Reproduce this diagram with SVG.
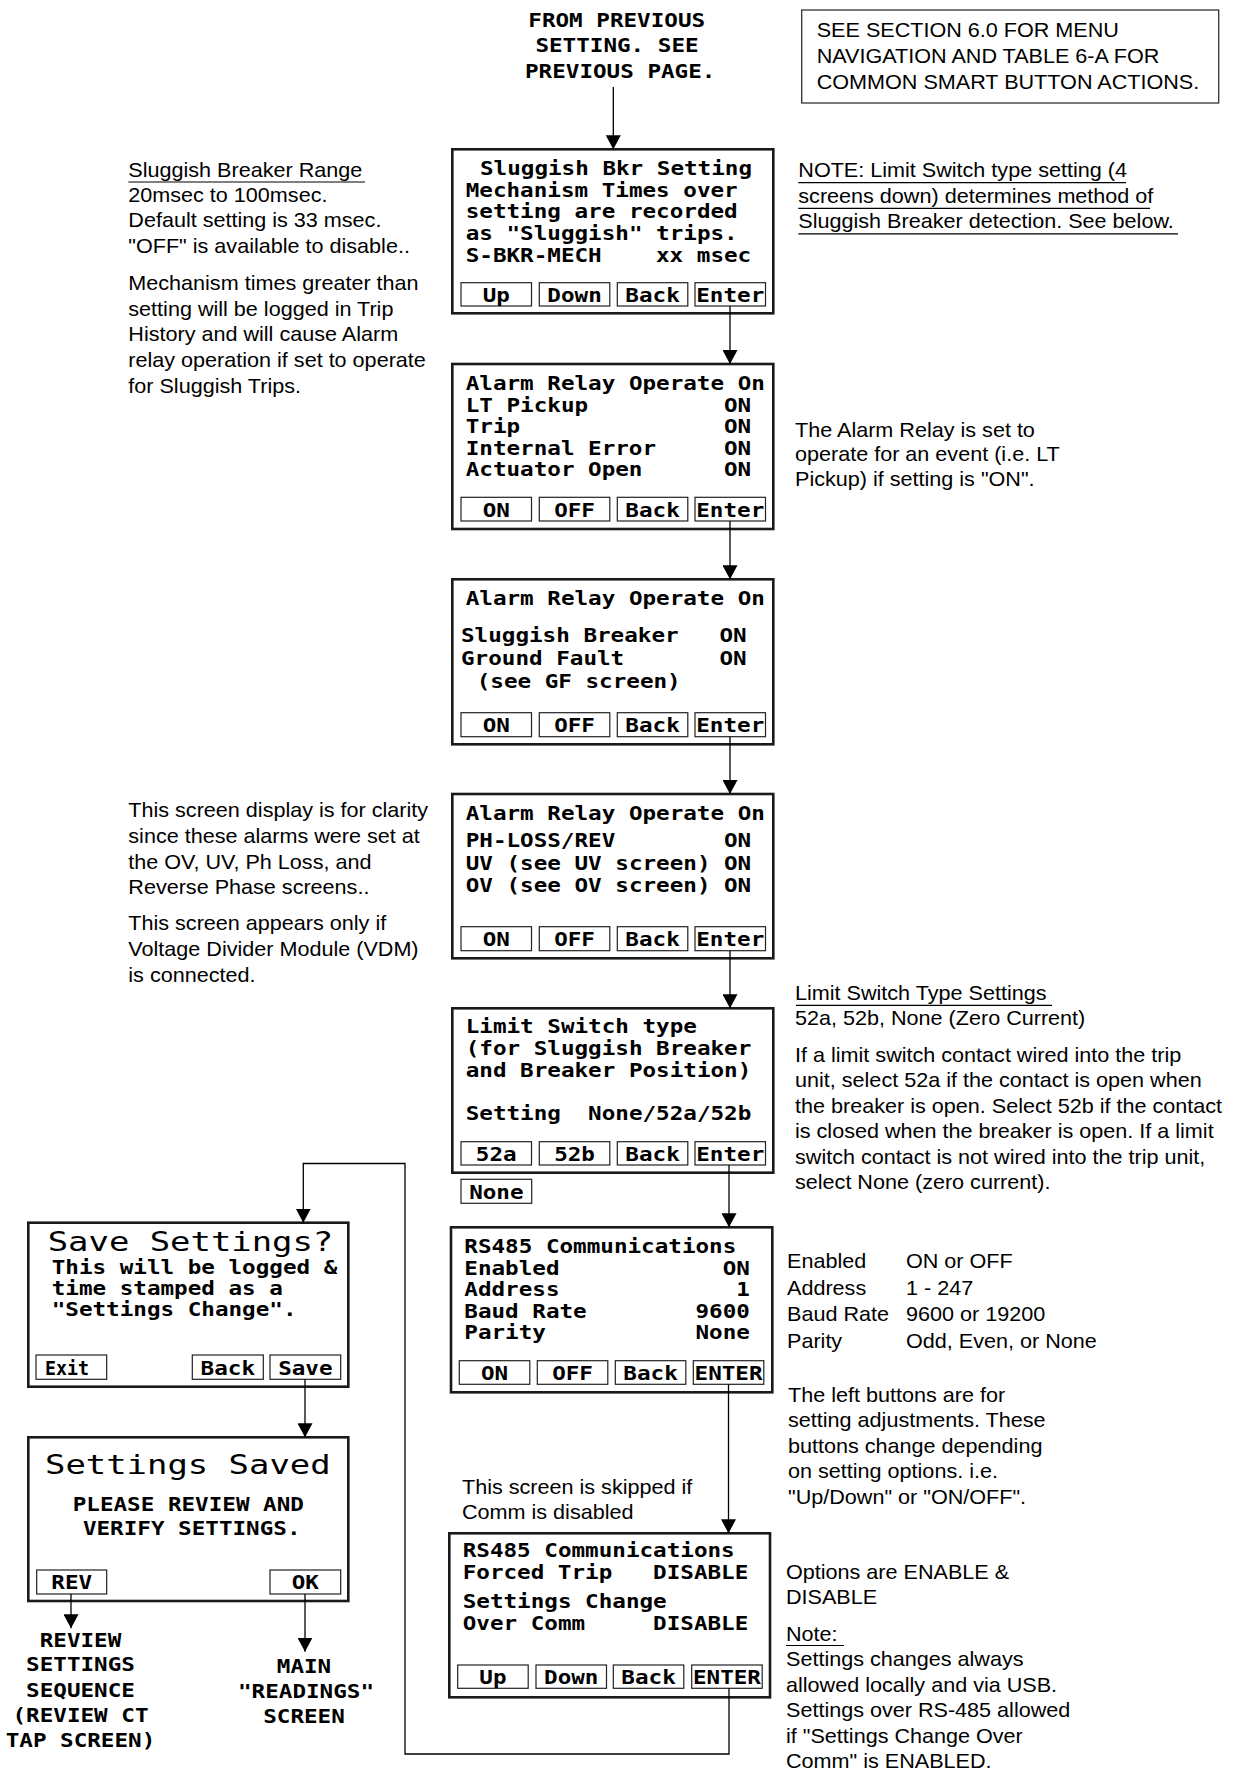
<svg xmlns="http://www.w3.org/2000/svg" width="1238" height="1771" viewBox="0 0 1238 1771">
<defs>
<style>
.scr{fill:#fff;stroke:#1a1a1a;stroke-width:2.6}
.btn{fill:#fff;stroke:#222;stroke-width:1.2}
.note{fill:#fff;stroke:#333;stroke-width:1.3}
.lcd{font-family:"DejaVu Sans Mono",monospace;font-weight:bold;font-size:19px;fill:#000}
.big{font-family:"DejaVu Sans Mono",monospace;font-weight:normal;font-size:26px;fill:#000}
.ar{font-family:"Liberation Sans",Arial,sans-serif;font-size:20px;fill:#000}
.ul{stroke:#000;stroke-width:1.2}
.con{fill:none;stroke:#000;stroke-width:1.3}
</style>
<marker id="ah" viewBox="0 0 14 15" refX="14" refY="7.5" markerWidth="14" markerHeight="15" markerUnits="userSpaceOnUse" orient="auto">
<path d="M0,0 L14,7.5 L0,15 z" fill="#000"/>
</marker>
</defs>
<rect width="1238" height="1771" fill="#fff"/>

<g id="from-previous">
<text class="lcd" x="528.3" y="26.7" textLength="176.8" lengthAdjust="spacingAndGlyphs">FROM PREVIOUS</text>
<text class="lcd" x="535.4" y="52.3" textLength="163.2" lengthAdjust="spacingAndGlyphs">SETTING. SEE</text>
<text class="lcd" x="525" y="78.3" textLength="190.4" lengthAdjust="spacingAndGlyphs">PREVIOUS PAGE.</text>
</g>

<g id="see-section">
<rect class="note" x="801.7" y="10" width="417" height="93"/>
<text class="ar" transform="translate(816.7,37) scale(1.08,1)"><tspan x="0">SEE SECTION 6.0 FOR MENU</tspan><tspan x="0" dy="26">NAVIGATION AND TABLE 6-A FOR</tspan><tspan x="0" dy="26">COMMON SMART BUTTON ACTIONS.</tspan></text>
</g>

<g id="note-limit">
<text class="ar" transform="translate(798.3,177) scale(1.08,1)"><tspan x="0">NOTE: Limit Switch type setting (4</tspan><tspan x="0" dy="25.75">screens down) determines method of</tspan><tspan x="0" dy="25.75">Sluggish Breaker detection.  See below.</tspan></text>
<line class="ul" x1="798.3" y1="182.7" x2="1126" y2="182.7"/>
<line class="ul" x1="798.3" y1="208.3" x2="1150" y2="208.3"/>
<line class="ul" x1="798.3" y1="233.8" x2="1178" y2="233.8"/>
</g>

<g id="note-sluggish">
<text class="ar" transform="translate(128.3,176.7) scale(1.08,1)"><tspan x="0">Sluggish Breaker Range</tspan><tspan x="0" dy="25.3">20msec to 100msec.</tspan><tspan x="0" dy="25.3">Default setting is 33 msec.</tspan><tspan x="0" dy="25.3">"OFF" is available to disable..</tspan><tspan x="0" dy="37.4">Mechanism times greater than</tspan><tspan x="0" dy="25.7">setting will be logged in Trip</tspan><tspan x="0" dy="25.7">History and will cause Alarm</tspan><tspan x="0" dy="25.7">relay operation if set to operate</tspan><tspan x="0" dy="25.7">for Sluggish Trips.</tspan></text>
<line class="ul" x1="128.3" y1="182" x2="365" y2="182"/>
</g>

<g id="screen-sluggish">
<rect class="scr" x="452.3" y="149.3" width="321" height="164"/>
<text class="lcd" x="480" y="175" textLength="272" lengthAdjust="spacingAndGlyphs">Sluggish Bkr Setting</text>
<text class="lcd" x="465.7" y="196.5" textLength="272" lengthAdjust="spacingAndGlyphs">Mechanism Times over</text>
<text class="lcd" x="465.7" y="218" textLength="272" lengthAdjust="spacingAndGlyphs">setting are recorded</text>
<text class="lcd" x="465.7" y="240" textLength="272" lengthAdjust="spacingAndGlyphs">as "Sluggish" trips.</text>
<text class="lcd" x="465.7" y="261.5" textLength="136" lengthAdjust="spacingAndGlyphs">S-BKR-MECH</text>
<text class="lcd" x="656" y="261.5" textLength="95.2" lengthAdjust="spacingAndGlyphs">xx msec</text>
<rect class="btn" x="461" y="282.7" width="70.5" height="23.3"/>
<rect class="btn" x="539.3" y="282.7" width="70.5" height="23.3"/>
<rect class="btn" x="617.3" y="282.7" width="70.5" height="23.3"/>
<rect class="btn" x="695" y="282.7" width="70.5" height="23.3"/>
<text class="lcd" x="482.65" y="301.5" textLength="27.2" lengthAdjust="spacingAndGlyphs">Up</text>
<text class="lcd" x="547.35" y="301.5" textLength="54.4" lengthAdjust="spacingAndGlyphs">Down</text>
<text class="lcd" x="625.35" y="301.5" textLength="54.4" lengthAdjust="spacingAndGlyphs">Back</text>
<text class="lcd" x="696.25" y="301.5" textLength="68" lengthAdjust="spacingAndGlyphs">Enter</text>
</g>

<g id="note-alarm">
<text class="ar" transform="translate(795,436.5) scale(1.08,1)"><tspan x="0">The Alarm Relay is set to</tspan><tspan x="0" dy="25">operate for an event (i.e. LT</tspan><tspan x="0" dy="25">Pickup) if setting is "ON".</tspan></text>
</g>

<g id="screen-alarm1">
<rect class="scr" x="452.3" y="364" width="321" height="165"/>
<text class="lcd" x="465.7" y="390" textLength="299.2" lengthAdjust="spacingAndGlyphs">Alarm Relay Operate On</text>
<text class="lcd" x="465.7" y="411.5" textLength="122.4" lengthAdjust="spacingAndGlyphs">LT Pickup</text>
<text class="lcd" x="724" y="411.5" textLength="27.2" lengthAdjust="spacingAndGlyphs">ON</text>
<text class="lcd" x="465.7" y="433" textLength="54.4" lengthAdjust="spacingAndGlyphs">Trip</text>
<text class="lcd" x="724" y="433" textLength="27.2" lengthAdjust="spacingAndGlyphs">ON</text>
<text class="lcd" x="465.7" y="454.5" textLength="190.4" lengthAdjust="spacingAndGlyphs">Internal Error</text>
<text class="lcd" x="724" y="454.5" textLength="27.2" lengthAdjust="spacingAndGlyphs">ON</text>
<text class="lcd" x="465.7" y="476" textLength="176.8" lengthAdjust="spacingAndGlyphs">Actuator Open</text>
<text class="lcd" x="724" y="476" textLength="27.2" lengthAdjust="spacingAndGlyphs">ON</text>
<rect class="btn" x="461" y="497.3" width="70.5" height="23.7"/>
<rect class="btn" x="539.3" y="497.3" width="70.5" height="23.7"/>
<rect class="btn" x="617.3" y="497.3" width="70.5" height="23.7"/>
<rect class="btn" x="695" y="497.3" width="70.5" height="23.7"/>
<text class="lcd" x="482.65" y="516.5" textLength="27.2" lengthAdjust="spacingAndGlyphs">ON</text>
<text class="lcd" x="554.15" y="516.5" textLength="40.8" lengthAdjust="spacingAndGlyphs">OFF</text>
<text class="lcd" x="625.35" y="516.5" textLength="54.4" lengthAdjust="spacingAndGlyphs">Back</text>
<text class="lcd" x="696.25" y="516.5" textLength="68" lengthAdjust="spacingAndGlyphs">Enter</text>
</g>

<g id="screen-alarm2">
<rect class="scr" x="452.3" y="579.3" width="321" height="165"/>
<text class="lcd" x="465.7" y="605" textLength="299.2" lengthAdjust="spacingAndGlyphs">Alarm Relay Operate On</text>
<text class="lcd" x="461" y="641.5" textLength="217.6" lengthAdjust="spacingAndGlyphs">Sluggish Breaker</text>
<text class="lcd" x="719.4" y="641.5" textLength="27.2" lengthAdjust="spacingAndGlyphs">ON</text>
<text class="lcd" x="461" y="664.5" textLength="163.2" lengthAdjust="spacingAndGlyphs">Ground Fault</text>
<text class="lcd" x="719.4" y="664.5" textLength="27.2" lengthAdjust="spacingAndGlyphs">ON</text>
<text class="lcd" x="476.7" y="687.5" textLength="204" lengthAdjust="spacingAndGlyphs">(see GF screen)</text>
<rect class="btn" x="461" y="712.7" width="70.5" height="24"/>
<rect class="btn" x="539.3" y="712.7" width="70.5" height="24"/>
<rect class="btn" x="617.3" y="712.7" width="70.5" height="24"/>
<rect class="btn" x="695" y="712.7" width="70.5" height="24"/>
<text class="lcd" x="482.65" y="732" textLength="27.2" lengthAdjust="spacingAndGlyphs">ON</text>
<text class="lcd" x="554.15" y="732" textLength="40.8" lengthAdjust="spacingAndGlyphs">OFF</text>
<text class="lcd" x="625.35" y="732" textLength="54.4" lengthAdjust="spacingAndGlyphs">Back</text>
<text class="lcd" x="696.25" y="732" textLength="68" lengthAdjust="spacingAndGlyphs">Enter</text>
</g>

<g id="note-clarity">
<text class="ar" transform="translate(128.3,817) scale(1.08,1)"><tspan x="0">This screen display is for clarity</tspan><tspan x="0" dy="25.8">since these alarms were set at</tspan><tspan x="0" dy="25.8">the OV, UV, Ph Loss, and</tspan><tspan x="0" dy="25.8">Reverse Phase screens..</tspan><tspan x="0" dy="36.1">This screen appears only if</tspan><tspan x="0" dy="25.8">Voltage Divider Module (VDM)</tspan><tspan x="0" dy="25.8">is connected.</tspan></text>
</g>

<g id="screen-alarm3">
<rect class="scr" x="452.3" y="794" width="321" height="164.3"/>
<text class="lcd" x="465.7" y="820" textLength="299.2" lengthAdjust="spacingAndGlyphs">Alarm Relay Operate On</text>
<text class="lcd" x="465.7" y="846.5" textLength="149.6" lengthAdjust="spacingAndGlyphs">PH-LOSS/REV</text>
<text class="lcd" x="724" y="846.5" textLength="27.2" lengthAdjust="spacingAndGlyphs">ON</text>
<text class="lcd" x="465.7" y="869.5" textLength="244.8" lengthAdjust="spacingAndGlyphs">UV (see UV screen)</text>
<text class="lcd" x="724" y="869.5" textLength="27.2" lengthAdjust="spacingAndGlyphs">ON</text>
<text class="lcd" x="465.7" y="892" textLength="244.8" lengthAdjust="spacingAndGlyphs">OV (see OV screen)</text>
<text class="lcd" x="724" y="892" textLength="27.2" lengthAdjust="spacingAndGlyphs">ON</text>
<rect class="btn" x="461" y="926.7" width="70.5" height="24"/>
<rect class="btn" x="539.3" y="926.7" width="70.5" height="24"/>
<rect class="btn" x="617.3" y="926.7" width="70.5" height="24"/>
<rect class="btn" x="695" y="926.7" width="70.5" height="24"/>
<text class="lcd" x="482.65" y="946" textLength="27.2" lengthAdjust="spacingAndGlyphs">ON</text>
<text class="lcd" x="554.15" y="946" textLength="40.8" lengthAdjust="spacingAndGlyphs">OFF</text>
<text class="lcd" x="625.35" y="946" textLength="54.4" lengthAdjust="spacingAndGlyphs">Back</text>
<text class="lcd" x="696.25" y="946" textLength="68" lengthAdjust="spacingAndGlyphs">Enter</text>
</g>

<g id="note-limit-switch">
<text class="ar" transform="translate(795,1000) scale(1.08,1)"><tspan x="0">Limit Switch Type Settings</tspan><tspan x="0" dy="25">52a, 52b, None (Zero Current)</tspan><tspan x="0" dy="36.7">If a limit switch contact wired into the trip</tspan><tspan x="0" dy="25.5">unit, select 52a if the contact is open when</tspan><tspan x="0" dy="25.5">the breaker is open. Select 52b if the contact</tspan><tspan x="0" dy="25.5">is closed when the breaker is open. If a limit</tspan><tspan x="0" dy="25.5">switch contact is not wired into the trip unit,</tspan><tspan x="0" dy="25.5">select None (zero current).</tspan></text>
<line class="ul" x1="796" y1="1005.3" x2="1052" y2="1005.3"/>
</g>

<g id="screen-limit-switch">
<rect class="scr" x="452.3" y="1008.3" width="321" height="164.4"/>
<text class="lcd" x="465.7" y="1033.3" textLength="231.2" lengthAdjust="spacingAndGlyphs">Limit Switch type</text>
<text class="lcd" x="465.7" y="1055" textLength="285.6" lengthAdjust="spacingAndGlyphs">(for Sluggish Breaker</text>
<text class="lcd" x="465.7" y="1076.7" textLength="285.6" lengthAdjust="spacingAndGlyphs">and Breaker Position)</text>
<text class="lcd" x="465.7" y="1120" textLength="95.2" lengthAdjust="spacingAndGlyphs">Setting</text>
<text class="lcd" x="588.1" y="1120" textLength="163.2" lengthAdjust="spacingAndGlyphs">None/52a/52b</text>
<rect class="btn" x="461" y="1141.7" width="70.5" height="23.3"/>
<rect class="btn" x="539.3" y="1141.7" width="70.5" height="23.3"/>
<rect class="btn" x="617.3" y="1141.7" width="70.5" height="23.3"/>
<rect class="btn" x="695" y="1141.7" width="70.5" height="23.3"/>
<text class="lcd" x="475.85" y="1160.5" textLength="40.8" lengthAdjust="spacingAndGlyphs">52a</text>
<text class="lcd" x="554.15" y="1160.5" textLength="40.8" lengthAdjust="spacingAndGlyphs">52b</text>
<text class="lcd" x="625.35" y="1160.5" textLength="54.4" lengthAdjust="spacingAndGlyphs">Back</text>
<text class="lcd" x="696.25" y="1160.5" textLength="68" lengthAdjust="spacingAndGlyphs">Enter</text>
<rect class="btn" x="461" y="1179.3" width="70.7" height="24"/>
<text class="lcd" x="469.15" y="1198.5" textLength="54.4" lengthAdjust="spacingAndGlyphs">None</text>
</g>

<g id="note-rs485">
<text class="ar" transform="translate(787,1268) scale(1.08,1)"><tspan x="0">Enabled</tspan><tspan x="0" dy="26.7">Address</tspan><tspan x="0" dy="26.7">Baud Rate</tspan><tspan x="0" dy="26.7">Parity</tspan></text>
<text class="ar" transform="translate(906,1268) scale(1.08,1)"><tspan x="0">ON or OFF</tspan><tspan x="0" dy="26.7">1 - 247</tspan><tspan x="0" dy="26.7">9600 or 19200</tspan><tspan x="0" dy="26.7">Odd, Even, or None</tspan></text>
<text class="ar" transform="translate(788,1402) scale(1.08,1)"><tspan x="0">The left buttons are for</tspan><tspan x="0" dy="25.5">setting adjustments.  These</tspan><tspan x="0" dy="25.5">buttons change depending</tspan><tspan x="0" dy="25.5">on setting options. i.e.</tspan><tspan x="0" dy="25.5">"Up/Down" or "ON/OFF".</tspan></text>
</g>

<g id="screen-rs485">
<rect class="scr" x="451" y="1227.3" width="321.3" height="165"/>
<text class="lcd" x="464.3" y="1253.3" textLength="272" lengthAdjust="spacingAndGlyphs">RS485 Communications</text>
<text class="lcd" x="464.3" y="1274.5" textLength="95.2" lengthAdjust="spacingAndGlyphs">Enabled</text>
<text class="lcd" x="722.7" y="1274.5" textLength="27.2" lengthAdjust="spacingAndGlyphs">ON</text>
<text class="lcd" x="464.3" y="1296" textLength="95.2" lengthAdjust="spacingAndGlyphs">Address</text>
<text class="lcd" x="736.3" y="1296" textLength="13.6" lengthAdjust="spacingAndGlyphs">1</text>
<text class="lcd" x="464.3" y="1317.5" textLength="122.4" lengthAdjust="spacingAndGlyphs">Baud Rate</text>
<text class="lcd" x="695.5" y="1317.5" textLength="54.4" lengthAdjust="spacingAndGlyphs">9600</text>
<text class="lcd" x="464.3" y="1339" textLength="81.6" lengthAdjust="spacingAndGlyphs">Parity</text>
<text class="lcd" x="695.5" y="1339" textLength="54.4" lengthAdjust="spacingAndGlyphs">None</text>
<rect class="btn" x="459.3" y="1360.7" width="70.5" height="23.6"/>
<rect class="btn" x="537.3" y="1360.7" width="70.5" height="23.6"/>
<rect class="btn" x="615.3" y="1360.7" width="70.5" height="23.6"/>
<rect class="btn" x="693.3" y="1360.7" width="70.5" height="23.6"/>
<text class="lcd" x="480.95" y="1380" textLength="27.2" lengthAdjust="spacingAndGlyphs">ON</text>
<text class="lcd" x="552.15" y="1380" textLength="40.8" lengthAdjust="spacingAndGlyphs">OFF</text>
<text class="lcd" x="623.35" y="1380" textLength="54.4" lengthAdjust="spacingAndGlyphs">Back</text>
<text class="lcd" x="694.55" y="1380" textLength="68" lengthAdjust="spacingAndGlyphs">ENTER</text>
</g>

<g id="note-skipped">
<text class="ar" transform="translate(462,1494) scale(1.08,1)"><tspan x="0">This screen is skipped if</tspan><tspan x="0" dy="25">Comm is disabled</tspan></text>
</g>

<g id="screen-rs485-2">
<rect class="scr" x="449.3" y="1533.3" width="320.7" height="164"/>
<text class="lcd" x="462.7" y="1556.7" textLength="272" lengthAdjust="spacingAndGlyphs">RS485 Communications</text>
<text class="lcd" x="462.7" y="1579.3" textLength="149.6" lengthAdjust="spacingAndGlyphs">Forced Trip</text>
<text class="lcd" x="653.1" y="1579.3" textLength="95.2" lengthAdjust="spacingAndGlyphs">DISABLE</text>
<text class="lcd" x="462.7" y="1608" textLength="204" lengthAdjust="spacingAndGlyphs">Settings Change</text>
<text class="lcd" x="462.7" y="1630" textLength="122.4" lengthAdjust="spacingAndGlyphs">Over Comm</text>
<text class="lcd" x="653.1" y="1630" textLength="95.2" lengthAdjust="spacingAndGlyphs">DISABLE</text>
<rect class="btn" x="457.7" y="1665" width="70.5" height="23.3"/>
<rect class="btn" x="536" y="1665" width="70.5" height="23.3"/>
<rect class="btn" x="613.3" y="1665" width="70.5" height="23.3"/>
<rect class="btn" x="691.7" y="1665" width="70.5" height="23.3"/>
<text class="lcd" x="479.35" y="1684" textLength="27.2" lengthAdjust="spacingAndGlyphs">Up</text>
<text class="lcd" x="544.05" y="1684" textLength="54.4" lengthAdjust="spacingAndGlyphs">Down</text>
<text class="lcd" x="621.35" y="1684" textLength="54.4" lengthAdjust="spacingAndGlyphs">Back</text>
<text class="lcd" x="692.95" y="1684" textLength="68" lengthAdjust="spacingAndGlyphs">ENTER</text>
</g>

<g id="note-options">
<text class="ar" transform="translate(786,1579) scale(1.08,1)"><tspan x="0">Options are ENABLE &amp;</tspan><tspan x="0" dy="25.5">DISABLE</tspan><tspan x="0" dy="36.5">Note:</tspan><tspan x="0" dy="25.5">Settings changes always</tspan><tspan x="0" dy="25.5">allowed locally and via USB.</tspan><tspan x="0" dy="25.5">Settings over RS-485 allowed</tspan><tspan x="0" dy="25.5">if "Settings Change Over</tspan><tspan x="0" dy="25.5">Comm" is ENABLED.</tspan></text>
<line class="ul" x1="786" y1="1645.5" x2="844" y2="1645.5"/>
</g>

<g id="screen-save">
<rect class="scr" x="28.3" y="1222.7" width="320" height="164"/>
<text class="big" x="47.7" y="1250.7" textLength="285.6" lengthAdjust="spacingAndGlyphs">Save Settings?</text>
<text class="lcd" x="51.7" y="1274" textLength="285.6" lengthAdjust="spacingAndGlyphs">This will be logged &amp;</text>
<text class="lcd" x="51.7" y="1295" textLength="231.2" lengthAdjust="spacingAndGlyphs">time stamped as a</text>
<text class="lcd" x="51.7" y="1316" textLength="244.8" lengthAdjust="spacingAndGlyphs">"Settings Change".</text>
<rect class="btn" x="36" y="1355" width="70.7" height="24.3"/>
<rect class="btn" x="192.3" y="1355" width="71" height="24.3"/>
<rect class="btn" x="270" y="1355" width="70.7" height="24.3"/>
<text class="lcd" x="45" y="1374.5" textLength="44" lengthAdjust="spacingAndGlyphs">Exit</text>
<text class="lcd" x="200.6" y="1374.5" textLength="54.4" lengthAdjust="spacingAndGlyphs">Back</text>
<text class="lcd" x="278.15" y="1374.5" textLength="54.4" lengthAdjust="spacingAndGlyphs">Save</text>
</g>

<g id="screen-saved">
<rect class="scr" x="28.3" y="1437.3" width="320" height="163.7"/>
<text class="big" x="45" y="1474" textLength="285.6" lengthAdjust="spacingAndGlyphs">Settings Saved</text>
<text class="lcd" x="72.7" y="1510.7" textLength="231.2" lengthAdjust="spacingAndGlyphs">PLEASE REVIEW AND</text>
<text class="lcd" x="82.9" y="1535" textLength="217.6" lengthAdjust="spacingAndGlyphs">VERIFY SETTINGS.</text>
<rect class="btn" x="36.7" y="1570" width="70" height="24"/>
<rect class="btn" x="270" y="1570" width="70.7" height="24"/>
<text class="lcd" x="51.3" y="1589" textLength="40.8" lengthAdjust="spacingAndGlyphs">REV</text>
<text class="lcd" x="291.75" y="1589" textLength="27.2" lengthAdjust="spacingAndGlyphs">OK</text>
</g>

<g id="review-sequence">
<text class="lcd" x="39.7" y="1646.7" textLength="81.6" lengthAdjust="spacingAndGlyphs">REVIEW</text>
<text class="lcd" x="26.1" y="1670.7" textLength="108.8" lengthAdjust="spacingAndGlyphs">SETTINGS</text>
<text class="lcd" x="26.1" y="1696.7" textLength="108.8" lengthAdjust="spacingAndGlyphs">SEQUENCE</text>
<text class="lcd" x="12.5" y="1721.7" textLength="136" lengthAdjust="spacingAndGlyphs">(REVIEW CT</text>
<text class="lcd" x="5.7" y="1746.7" textLength="149.6" lengthAdjust="spacingAndGlyphs">TAP SCREEN)</text>
</g>

<g id="main-readings">
<text class="lcd" x="276.8" y="1673.3" textLength="54.4" lengthAdjust="spacingAndGlyphs">MAIN</text>
<text class="lcd" x="238" y="1698.3" textLength="136" lengthAdjust="spacingAndGlyphs">"READINGS"</text>
<text class="lcd" x="263.2" y="1723.3" textLength="81.6" lengthAdjust="spacingAndGlyphs">SCREEN</text>
</g>

<g id="connectors">
<path class="con" d="M613.3,87 V149.3" marker-end="url(#ah)"/>
<path class="con" d="M730,306 V364" marker-end="url(#ah)"/>
<path class="con" d="M730,521 V579.3" marker-end="url(#ah)"/>
<path class="con" d="M730,736.7 V794" marker-end="url(#ah)"/>
<path class="con" d="M730,950.7 V1008.3" marker-end="url(#ah)"/>
<path class="con" d="M729,1165 V1227.3" marker-end="url(#ah)"/>
<path class="con" d="M728.5,1384.3 V1533.3" marker-end="url(#ah)"/>
<path class="con" d="M729,1688.3 V1754 H405 V1163.5 H303.3 V1222.7" marker-end="url(#ah)"/>
<path class="con" d="M305,1379.3 V1437.3" marker-end="url(#ah)"/>
<path class="con" d="M71,1594 V1628.3" marker-end="url(#ah)"/>
<path class="con" d="M305,1594 V1651.7" marker-end="url(#ah)"/>
</g>
</svg>
